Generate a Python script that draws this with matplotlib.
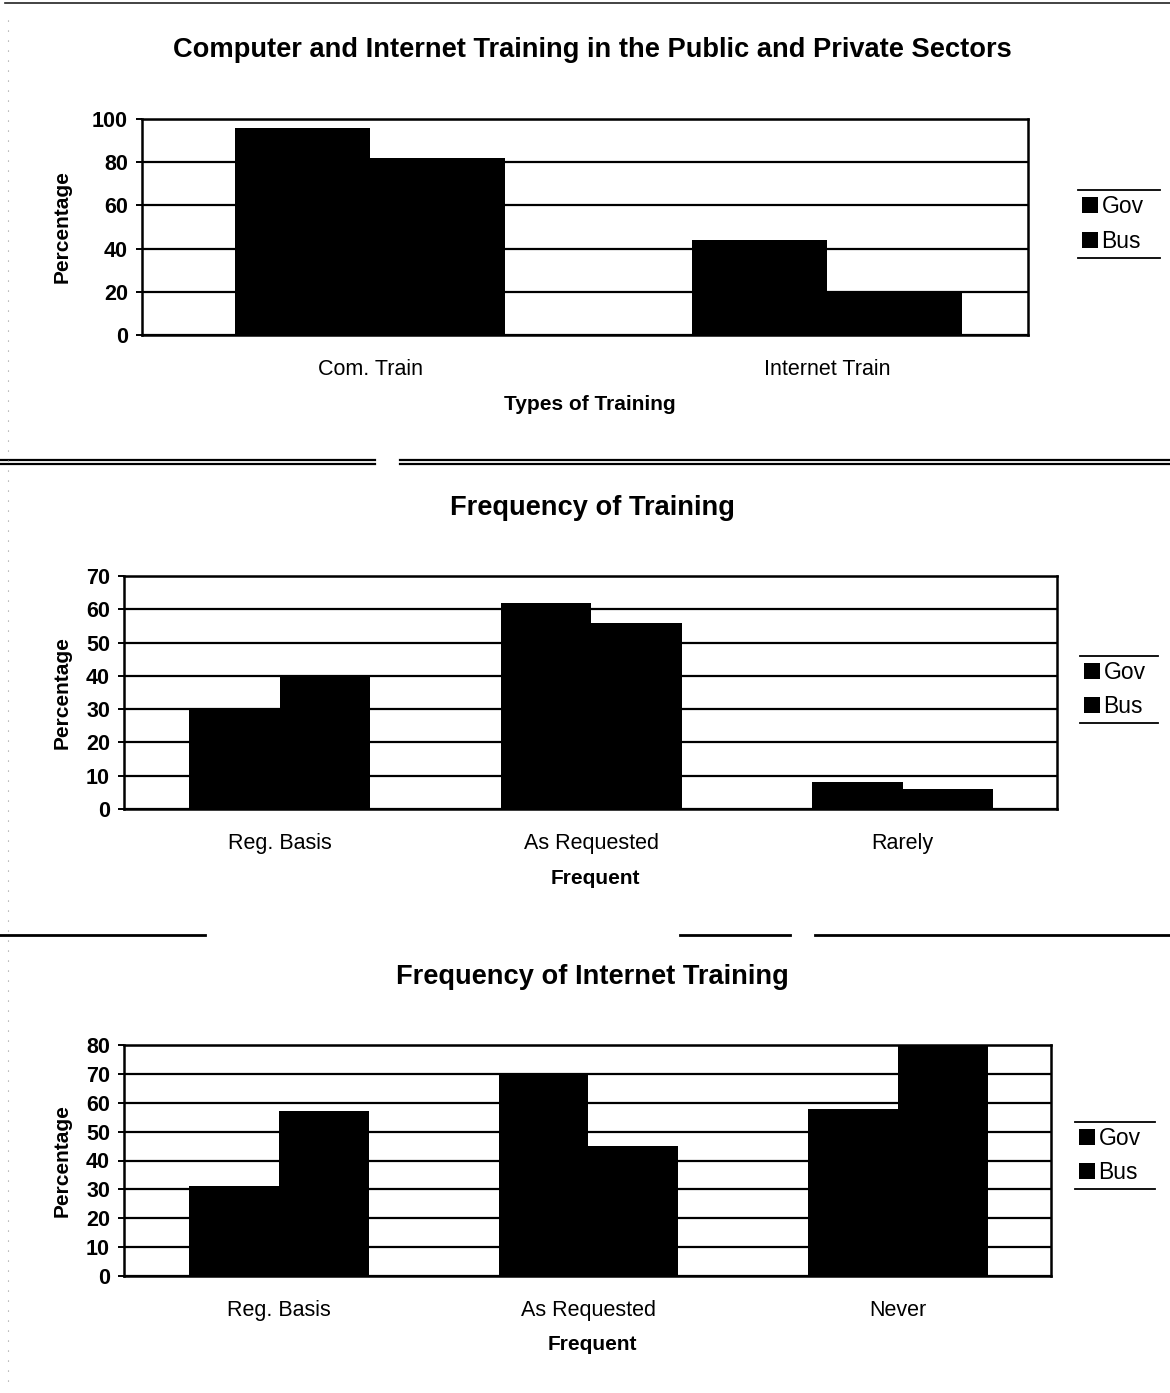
import matplotlib
matplotlib.use("Agg")
import matplotlib.pyplot as plt
from matplotlib.lines import Line2D
import numpy as np

plt.rcParams['font.family'] = ['Liberation Sans', 'DejaVu Sans']

# --- data -------------------------------------------------------------
series = ["Gov", "Bus"]

types_cats = ["Com. Train", "Internet Train"]
types_gov = [96, 44]
types_bus = [82, 20]

freq_cats = ["Reg. Basis", "As Requested", "Rarely"]
freq_gov = [30, 62, 8]
freq_bus = [40, 56, 6]

inet_cats = ["Reg. Basis", "As Requested", "Never"]
inet_gov = [31, 70, 58]
inet_bus = [57, 45, 80]

W, H = 1170, 1393
fig = plt.figure(figsize=(W / 100, H / 100), dpi=100)
fig.patch.set_facecolor("white")


def fx(x):
    return x / W


def fy(y):
    return 1 - y / H


def panel(box, title, title_y, cats, gov, bus, ymax, step, xlabel,
          xlabel_y, legend_box, xlim, bar_w):
    left, top, right, bottom = box
    ax = fig.add_axes([fx(left), fy(bottom), fx(right) - fx(left),
                       fy(top) - fy(bottom)])
    x = np.arange(len(cats))
    b1 = ax.bar(x - bar_w / 2, gov, bar_w, color="black", label=series[0],
                zorder=3)
    b2 = ax.bar(x + bar_w / 2, bus, bar_w, color="black", label=series[1],
                zorder=3)
    ax.set_xlim(*xlim)
    ax.set_ylim(0, ymax)
    ax.set_yticks(np.arange(0, ymax + 1, step))
    ax.yaxis.grid(True, color="black", linewidth=1.6, zorder=0)
    ax.set_axisbelow(True)
    ax.set_xticks(x)
    ax.set_xticklabels(cats, fontsize=15.5)
    ax.tick_params(axis="x", length=0, pad=17)
    ax.tick_params(axis="y", length=4, width=1.4, pad=6, labelsize=15.5)
    for lab in ax.get_yticklabels():
        lab.set_fontweight("bold")
    for s in ax.spines.values():
        s.set_linewidth(1.8)
        s.set_color("black")

    cx = (left + right) / 2
    fig.text(fx(592), fy(title_y), title, ha="center", va="center",
             fontsize=19.6, fontweight="bold")
    fig.text(fx(cx + 5), fy(xlabel_y), xlabel, ha="center", va="center",
             fontsize=15, fontweight="bold")
    fig.text(fx(62), fy((top + bottom) / 2), "Percentage", ha="center",
             va="center", rotation=90, fontsize=15, fontweight="bold")

    lx0, ly0, lx1, ly1 = legend_box
    ax.legend(handles=[b1, b2], loc="center left", frameon=False,
              bbox_to_anchor=(fx(lx0 + 4), fy((ly0 + ly1) / 2)),
              bbox_transform=fig.transFigure, fontsize=16.5,
              handlelength=0.7, handleheight=0.7, handletextpad=0.15,
              labelspacing=0.5, borderaxespad=0, borderpad=0)
    for yy in (ly0, ly1):
        fig.add_artist(Line2D([fx(lx0), fx(lx1)], [fy(yy), fy(yy)],
                              color="black", linewidth=1.3))
    return ax


panel((142, 119, 1028, 335),
      "Computer and Internet Training in the Public and Private Sectors", 50,
      types_cats, types_gov, types_bus, 100, 20, "Types of Training", 405,
      (1078, 190, 1160, 258), (-0.499, 1.44), 0.295)

panel((124, 576, 1057, 809), "Frequency of Training", 508,
      freq_cats, freq_gov, freq_bus, 70, 10, "Frequent", 879,
      (1080, 656, 1158, 723), (-0.5, 2.495), 0.29)

panel((124, 1045, 1051, 1276), "Frequency of Internet Training", 977,
      inet_cats, inet_gov, inet_bus, 80, 10, "Frequent", 1344,
      (1075, 1122, 1155, 1189), (-0.5, 2.495), 0.29)

# page rules between the charts
def rule(x0, x1, y, lw=1.5, color="black"):
    fig.add_artist(Line2D([fx(x0), fx(x1)], [fy(y), fy(y)], color=color,
                          linewidth=lw))


rule(5, 1170, 3, lw=1.2, color="#222222")
rule(0, 375, 460, lw=1.6)
rule(0, 375, 464, lw=1.6)
rule(400, 1170, 460, lw=1.6)
rule(400, 1170, 464, lw=1.6)
rule(0, 205, 935, lw=2)
rule(680, 790, 935, lw=2)
rule(815, 1170, 935, lw=2)

fig.add_artist(Line2D([fx(8), fx(8)], [fy(20), fy(1390)], color="#999999",
                      linewidth=0.8, linestyle=(0, (1, 8))))

fig.savefig("out.png", dpi=100, facecolor="white")
